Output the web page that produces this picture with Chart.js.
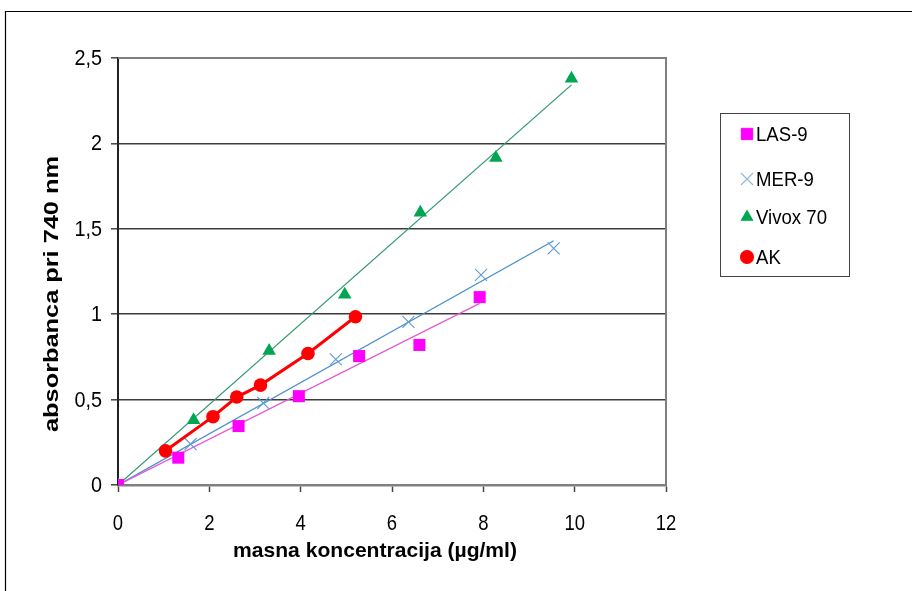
<!DOCTYPE html>
<html>
<head>
<meta charset="utf-8">
<script src="https://cdn.jsdelivr.net/npm/chart.js@4.4.1/dist/chart.umd.min.js"></script>
<style>
  html, body { margin: 0; padding: 0; background: #fff; }
  #wrap { width: 912px; height: 591px; }
</style>
</head>
<body>
<div id="wrap"><canvas id="c" width="912" height="591"></canvas></div>
<script>
// Absorbance at 740 nm versus mass concentration, four extracts
const lasX   = [0, 1.32, 2.64, 3.96, 5.28, 6.6, 7.92];
const lasY   = [0, 0.16, 0.345, 0.52, 0.755, 0.82, 1.1];
const merX   = [0, 1.59, 3.18, 4.77, 6.36, 7.95, 9.54];
const merY   = [0, 0.24, 0.48, 0.735, 0.955, 1.23, 1.385];
const vivoxX = [0, 1.655, 3.31, 4.965, 6.62, 8.275, 9.93];
const vivoxY = [0, 0.38, 0.785, 1.115, 1.595, 1.915, 2.38];
const akX    = [1.04, 2.08, 2.6, 3.12, 4.16, 5.2];
const akY    = [0.2, 0.4, 0.515, 0.585, 0.77, 0.985];

const xTicks = [0, 2, 4, 6, 8, 10, 12];
const yTicks = [0, 0.5, 1, 1.5, 2, 2.5];
const seriesNames = ['LAS-9', 'MER-9', 'Vivox 70', 'AK'];

const FONT = '"Liberation Sans", Arial, sans-serif';

function pts(xs, ys) { return xs.map((x, i) => ({ x: x, y: ys[i] })); }

// least-squares line through the origin, drawn from 0 to the last measured x
function trend(xs, ys) {
  let sxy = 0, sxx = 0;
  xs.forEach((x, i) => { sxy += x * ys[i]; sxx += x * x; });
  const k = sxy / sxx;
  const xe = Math.max(...xs);
  return [{ x: 0, y: 0 }, { x: xe, y: k * xe }];
}

function trendSet(xs, ys, color) {
  return {
    label: '', data: trend(xs, ys), showLine: true, borderColor: color,
    borderWidth: 1.3, pointRadius: 0, order: 10, isTrend: true
  };
}

const datasets = [
  trendSet(lasX, lasY, '#e45ad6'),
  trendSet(merX, merY, '#4a8fcb'),
  trendSet(vivoxX, vivoxY, '#2f9a6c'),
  {
    label: seriesNames[0], data: pts(lasX, lasY), showLine: false,
    pointStyle: 'rect', pointRadius: 8.5, backgroundColor: '#ff00ff',
    borderColor: '#ff00ff', borderWidth: 0, order: 1
  },
  {
    label: seriesNames[1], data: pts(merX, merY), showLine: false,
    pointStyle: 'crossRot', pointRadius: 8.5, backgroundColor: '#5b9bd5',
    borderColor: '#5b9bd5', pointBorderWidth: 1.1, order: 1
  },
  {
    label: seriesNames[2], data: pts(vivoxX, vivoxY), showLine: false,
    pointStyle: 'triangle', pointRadius: 7.8, backgroundColor: '#00a651',
    borderColor: '#00a651', borderWidth: 0, order: 1
  },
  {
    label: seriesNames[3], data: pts(akX, akY), showLine: true,
    pointStyle: 'circle', pointRadius: 6.8, backgroundColor: '#ff0000',
    borderColor: '#ff0000', borderWidth: 3, pointBorderWidth: 0, order: 0
  }
];

// text drawn tall and slightly condensed
function narrowText(ctx, text, x, y, sx) {
  ctx.save();
  ctx.translate(x, y);
  ctx.scale(sx, 1);
  ctx.fillText(text, 0, 0);
  ctx.restore();
}

// frame, tick labels, axis titles and the boxed legend
const decor = {
  id: 'decor',
  beforeDraw(chart) {
    const ctx = chart.ctx;
    ctx.save();
    ctx.fillStyle = '#fff';
    ctx.fillRect(0, 0, chart.width, chart.height);
    ctx.strokeStyle = '#000';
    ctx.lineWidth = 1.2;
    ctx.beginPath();
    ctx.moveTo(5.5, 600);
    ctx.lineTo(5.5, 11.5);
    ctx.lineTo(920, 11.5);
    ctx.stroke();
    ctx.restore();
  },
  afterDatasetsDraw(chart) {
    const ctx = chart.ctx;
    const a = chart.chartArea;
    const sx = chart.scales.x, sy = chart.scales.y;
    ctx.save();
    // top and right edges of the plot area
    ctx.strokeStyle = '#7f7f7f';
    ctx.lineWidth = 2;
    ctx.beginPath();
    ctx.moveTo(a.left, a.top);
    ctx.lineTo(a.right, a.top);
    ctx.lineTo(a.right, a.bottom);
    ctx.stroke();

    // tick labels placed by the scales
    ctx.fillStyle = '#000';
    ctx.font = '22px ' + FONT;
    ctx.textBaseline = 'middle';
    ctx.textAlign = 'center';
    sx.ticks.forEach(t => {
      narrowText(ctx, String(t.value), sx.getPixelForValue(t.value), a.bottom + 39, 0.84);
    });
    ctx.textAlign = 'right';
    sy.ticks.forEach(t => {
      narrowText(ctx, String(t.value).replace('.', ','), a.left - 16, sy.getPixelForValue(t.value) + 1, 0.9);
    });

    // axis titles
    ctx.font = 'bold 21px ' + FONT;
    ctx.textAlign = 'center';
    const xt = 'masna koncentracija (µg/ml)';
    let w = ctx.measureText(xt).width;
    narrowText(ctx, xt, 375, 551, 284 / w);

    const yt = 'absorbanca pri 740 nm';
    w = ctx.measureText(yt).width;
    ctx.save();
    ctx.translate(52, 294);
    ctx.rotate(-Math.PI / 2);
    ctx.scale(276 / w, 1);
    ctx.fillText(yt, 0, 0);
    ctx.restore();

    // legend
    ctx.strokeStyle = '#444';
    ctx.lineWidth = 1;
    ctx.strokeRect(720.5, 113.5, 129, 163);
    const rows = [134, 179, 217, 257];
    ctx.font = '20px ' + FONT;
    ctx.textAlign = 'left';
    const marks = chart.data.datasets.filter(d => !d.isTrend);
    marks.forEach((d, i) => {
      const y = rows[i];
      const r = d.pointStyle === 'crossRot' ? 8.5 : (d.pointStyle === 'rect' ? 8 : 6.5);
      ctx.fillStyle = d.pointStyle === 'crossRot' ? '#8db6df' : d.backgroundColor;
      ctx.strokeStyle = d.pointStyle === 'crossRot' ? '#8db6df' : d.borderColor;
      ctx.lineWidth = d.pointStyle === 'crossRot' ? 1.1 : 0;
      Chart.helpers.drawPoint(ctx, { pointStyle: d.pointStyle, radius: r, borderWidth: ctx.lineWidth }, 747, y);
      ctx.fillStyle = '#000';
      narrowText(ctx, d.label, 756, y + 1, 0.93);
    });
    ctx.restore();
  }
};

new Chart(document.getElementById('c'), {
  type: 'scatter',
  data: { datasets: datasets },
  options: {
    responsive: false,
    animation: false,
    layout: { padding: { left: 0, top: 58, right: 246, bottom: 0 } },
    plugins: { legend: { display: false }, tooltip: { enabled: false } },
    scales: {
      x: {
        type: 'linear', min: 0, max: 12,
        afterBuildTicks(s) { s.ticks = xTicks.map(v => ({ value: v })); },
        afterFit(s) { s.height = 106; },
        grid: {
          color: 'rgba(0,0,0,0)',
          tickColor: '#444', tickLength: 7, tickWidth: 1.5, drawTicks: true
        },
        border: { color: '#808080', width: 2.5 },
        ticks: { color: 'rgba(0,0,0,0)', font: { size: 17, family: FONT }, maxRotation: 0 }
      },
      y: {
        type: 'linear', min: 0, max: 2.5,
        afterBuildTicks(s) { s.ticks = yTicks.map(v => ({ value: v })); },
        afterFit(s) { s.width = 118; },
        grid: {
          color: ctx => (ctx.tick && ctx.tick.value > 0 && ctx.tick.value < 2.5) ? '#3c3c3c' : 'rgba(0,0,0,0)',
          lineWidth: 1.6, tickColor: '#444', tickLength: 7, tickWidth: 1.5
        },
        border: { color: '#222', width: 2 },
        ticks: { color: 'rgba(0,0,0,0)', font: { size: 17, family: FONT } }
      }
    }
  },
  plugins: [decor]
});
</script>
</body>
</html>
